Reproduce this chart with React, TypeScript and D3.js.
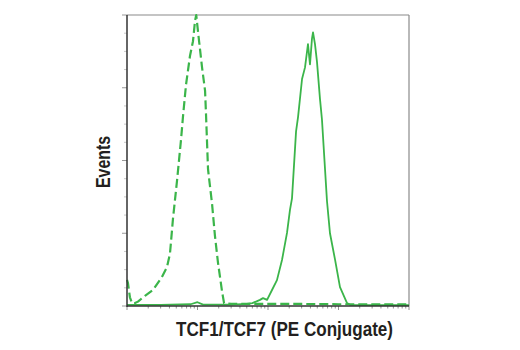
import React from "react";
import * as d3 from "d3";

// Isotype control (dashed): [intensity, events]
const isotypeX = [1, 1.03, 1.1, 1.18, 1.3, 1.43, 1.6, 1.8, 2.34, 3.13, 3.69, 4.07, 4.49, 5.12, 5.83, 6.22, 6.87, 7.83, 8.63, 9.22, 9.6, 10.2, 11.6, 12.8, 13.2, 14.1, 16.1, 17.7, 19.5, 22.3, 23.8, 30, 60, 100, 300, 1000, 3000, 10000];
const isotypeY = [9, 8, 3, 1, 1, 1.5, 2.5, 3.5, 5.5, 10, 13.4, 18, 30, 43, 57, 65, 76, 86, 91, 98, 100, 94, 82, 74, 66, 47, 35, 24, 15, 5, 1, 0.7, 0.7, 0.7, 0.7, 0.6, 0.6, 0.6];

// TCF1/TCF7 stained (solid)
const stainX = [1, 3, 8, 10, 12, 30, 50, 60, 77, 85, 97, 114, 134, 158, 186, 205, 219, 250, 267, 304, 335, 369, 394, 421, 435, 464, 495, 547, 583, 687, 757, 892, 1050, 1321, 1456, 2000, 10000];
const stainY = [0.4, 0.4, 0.6, 1.3, 0.5, 0.5, 0.7, 1, 2.1, 2.7, 2.1, 5.5, 8.9, 15.8, 25.1, 33, 37, 60, 65, 78, 82, 90, 83, 92, 94, 90, 84, 71, 64, 36, 25, 16, 6.5, 1, 0.4, 0.3, 0.3];

const xDomain = [1, 10000];
const yDomain = [0, 100];
const yTickCount = 16;
const xLabel = "TCF1/TCF7 (PE Conjugate)";
const yLabel = "Events";

export default function App() {
  const left = 127, right = 409, top = 15, bottom = 306;
  const green = "#3bb54a";
  const x = d3.scaleLog().domain(xDomain).range([left, right]);
  const y = d3.scaleLinear().domain(yDomain).range([bottom, top]);
  const line = d3.line<[number, number]>().x(d => x(d[0])).y(d => y(d[1])).curve(d3.curveLinear);
  const iso: [number, number][] = isotypeX.map((v, i) => [v, isotypeY[i]]);
  const st: [number, number][] = stainX.map((v, i) => [v, stainY[i]]);

  const yTicks = d3.range(yTickCount + 1).map(i => yDomain[0] + (i * (yDomain[1] - yDomain[0])) / yTickCount);
  const xTicks: { v: number; major: boolean }[] = [];
  for (let e = 0; e < 4; e++) {
    for (let m = 1; m < 10; m++) xTicks.push({ v: m * Math.pow(10, e), major: m === 1 });
  }
  xTicks.push({ v: 10000, major: true });

  const font = "'Liberation Sans', Arial, sans-serif";

  return (
    <svg width={520} height={350} style={{ position: "absolute", left: 0, top: 0, background: "#fff" }}>
      {/* frame */}
      <line x1={left} x2={right} y1={top} y2={top} stroke="#8a8a8a" strokeWidth={1.2} />
      <line x1={right} x2={right} y1={top} y2={bottom} stroke="#8a8a8a" strokeWidth={1.2} />
      {/* y ticks */}
      {yTicks.map((t, i) => (
        <line key={"y" + i} x1={left - (i % 4 === 0 ? 5 : 3)} x2={left} y1={y(t)} y2={y(t)} stroke={i % 4 === 0 ? "#999" : "#c8c8c8"} strokeWidth={1} />
      ))}
      {/* x ticks */}
      {xTicks.map((t, i) => (
        <line key={"x" + i} x1={x(t.v)} x2={x(t.v)} y1={bottom} y2={bottom + (t.major ? 4 : 2.5)} stroke="#777" strokeWidth={0.8} />
      ))}
      {/* curves */}
      <path d={line(st) || ""} fill="none" stroke={green} strokeWidth={1.8} strokeLinejoin="round" />
      <path d={line(iso) || ""} fill="none" stroke={green} strokeWidth={2.2} strokeDasharray="9,4" strokeLinejoin="round" />
      {/* axes */}
      <line x1={left} x2={left} y1={top} y2={bottom + 1} stroke="#333" strokeWidth={1.5} />
      <line x1={left} x2={right} y1={bottom} y2={bottom} stroke="#333" strokeWidth={1.5} />
      {/* labels */}
      <text x={176} y={336} textLength={217} lengthAdjust="spacingAndGlyphs" fontFamily={font} fontWeight="bold" fontSize={20} fill="#231f20">
        {xLabel}
      </text>
      <text transform={`translate(110, 188) rotate(-90)`} textLength={52} lengthAdjust="spacingAndGlyphs" fontFamily={font} fontWeight="bold" fontSize={20} fill="#231f20">
        {yLabel}
      </text>
    </svg>
  );
}
